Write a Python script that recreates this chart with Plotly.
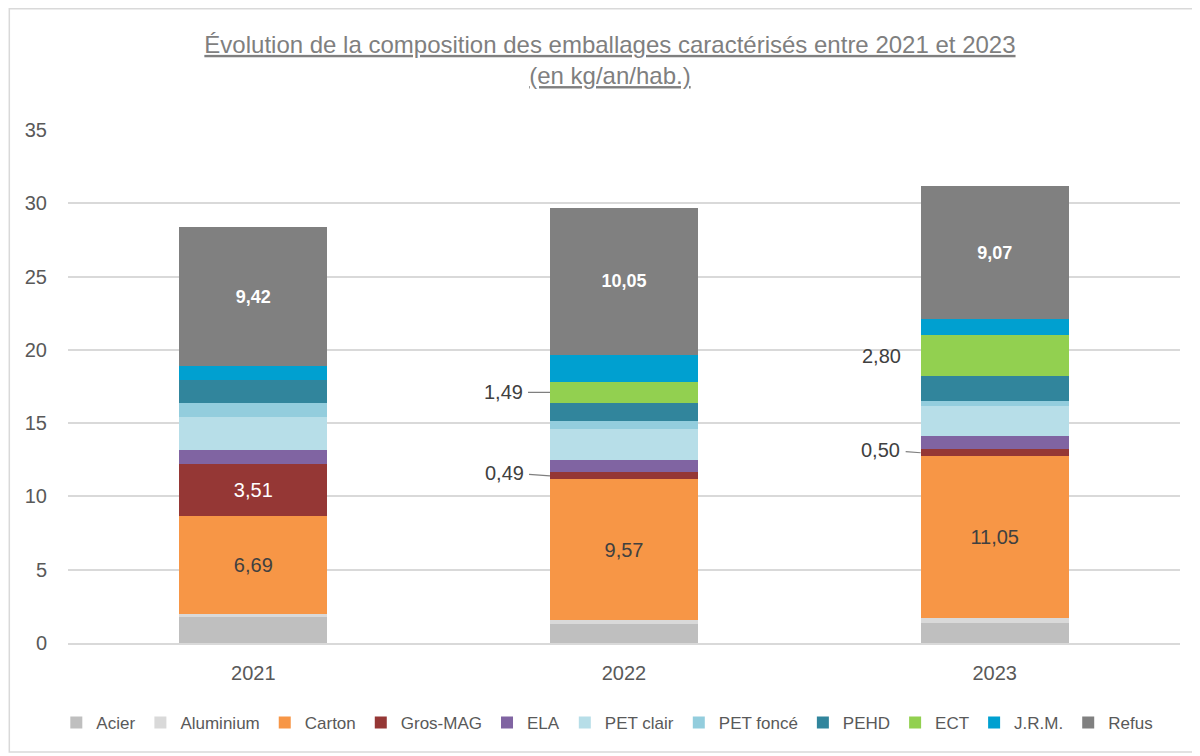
import plotly.graph_objects as go

years = ["2021", "2022", "2023"]
series = ["Acier", "Aluminium", "Carton", "Gros-MAG", "ELA", "PET clair",
          "PET foncé", "PEHD", "ECT", "J.R.M.", "Refus"]
acier = [1.75, 1.32, 1.34]
aluminium = [0.25, 0.27, 0.34]
carton = [6.69, 9.57, 11.05]
gros_mag = [3.51, 0.49, 0.50]
ela = [1.00, 0.86, 0.91]
pet_clair = [2.23, 2.09, 2.05]
pet_fonce = [0.95, 0.57, 0.34]
pehd = [1.55, 1.18, 1.68]
ect = [0.00, 1.49, 2.80]
jrm = [1.00, 1.82, 1.09]
refus = [9.42, 10.05, 9.07]
values = [acier, aluminium, carton, gros_mag, ela, pet_clair, pet_fonce, pehd, ect, jrm, refus]
colors = ["#BFBFBF", "#D9D9D9", "#F79646", "#953735", "#8064A2", "#B7DEE8",
          "#93CDDD", "#31859C", "#92D050", "#00A0D0", "#808080"]

FONT = "Liberation Sans, Arial, sans-serif"
TXT = "#595959"

def fmt(v):
    return f"{v:.2f}".replace(".", ",")

# which values are labelled inside the bar
inside = {
    "Carton": ([True, True, True], "#404040", False),
    "Gros-MAG": ([True, False, False], "#FFFFFF", False),
    "Refus": ([True, True, True], "#FFFFFF", True),
}

fig = go.Figure()
for name, vals, col in zip(series, values, colors):
    text = [""] * len(vals)
    tfont = dict(family=FONT, size=20, color="#404040")
    if name in inside:
        flags, tc, bold = inside[name]
        text = [(("<b>" + fmt(v) + "</b>") if bold else fmt(v)) if f else "" for v, f in zip(vals, flags)]
        tfont = dict(family=FONT, size=20 if not bold else 18, color=tc)
    fig.add_trace(go.Bar(
        name=name, x=years, y=vals, marker=dict(color=col, line=dict(width=0)),
        text=text, textposition="inside", insidetextanchor="middle",
        textangle=0, insidetextfont=tfont, hoverinfo="skip",
    ))

# outside labels with leader lines
def seg_center(idx, yi):
    base = sum(values[k][yi] for k in range(idx))
    return base + values[idx][yi] / 2

annots = [
    (series.index("ECT"), 1, -47, 0, True),
    (series.index("Gros-MAG"), 1, -46, -3, True),
    (series.index("Gros-MAG"), 2, -40, -3, True),
    (series.index("ECT"), 2, -37, 0, False),
]
anns = []
for idx, yi, ax, ay, arrow in annots:
    yc = seg_center(idx, yi)
    if arrow:
        anns.append(dict(x=yi, y=yc, xref="x", yref="y", xshift=-74,
                         text=fmt(values[idx][yi]), showarrow=True, arrowhead=0,
                         arrowwidth=1.2, arrowcolor="#7F7F7F", ax=ax, ay=ay,
                         standoff=0, startstandoff=4,
                         font=dict(family=FONT, size=20, color="#404040")))
    else:
        anns.append(dict(x=yi, y=yc, xref="x", yref="y", xshift=-74 + ax - 2,
                         text=fmt(values[idx][yi]), showarrow=False,
                         font=dict(family=FONT, size=20, color="#404040")))

W, H = 1192, 748
ML, MR, MT, MB = 59.5, 19.5, 122, 113
PW, PH = W - ML - MR, H - MT - MB

fig.update_layout(
    width=W, height=H,
    margin=dict(l=ML, r=MR, t=MT, b=MB),
    paper_bgcolor="white", plot_bgcolor="white",
    barmode="stack", bargap=0.6,
    font=dict(family=FONT, size=18, color=TXT),
    title=dict(text="<u>Évolution de la composition des emballages caractérisés entre 2021 et 2023</u><br><u>(en kg/an/hab.)</u>",
               x=0.505, xref="container", xanchor="center",
               y=0.94, yref="container", yanchor="top",
               font=dict(family=FONT, size=24, color="#7F7F7F")),
    xaxis=dict(type="category", range=[-0.5, len(years) - 0.5], autorange=False,
               showgrid=False, showline=True, linecolor="#D9D9D9", linewidth=1.5,
               ticks="outside", ticklen=11, tickcolor="rgba(0,0,0,0)",
               tickfont=dict(family=FONT, size=20, color=TXT)),
    yaxis=dict(range=[0, 35], dtick=5, showgrid=True, gridcolor="#D9D9D9", gridwidth=1.5,
               zeroline=False, showline=False, ticks="outside", ticklen=16,
               tickcolor="rgba(0,0,0,0)", tickfont=dict(family=FONT, size=20, color=TXT)),
    legend=dict(orientation="h", x=0.485, xanchor="center", y=-0.156, yanchor="middle",
                font=dict(family=FONT, size=17, color=TXT), traceorder="normal",
                itemwidth=30, tracegroupgap=0),
    annotations=anns,
    shapes=[dict(type="rect", xref="paper", yref="paper",
                 x0=(0.75 - ML) / PW, x1=(1186 - ML) / PW,
                 y0=-(H - 4 - MT - PH) / PH, y1=(MT + PH - 0.75) / PH,
                 line=dict(color="#D9D9D9", width=1.5), layer="below")],
    showlegend=True,
)

fig.write_html("out.html")
